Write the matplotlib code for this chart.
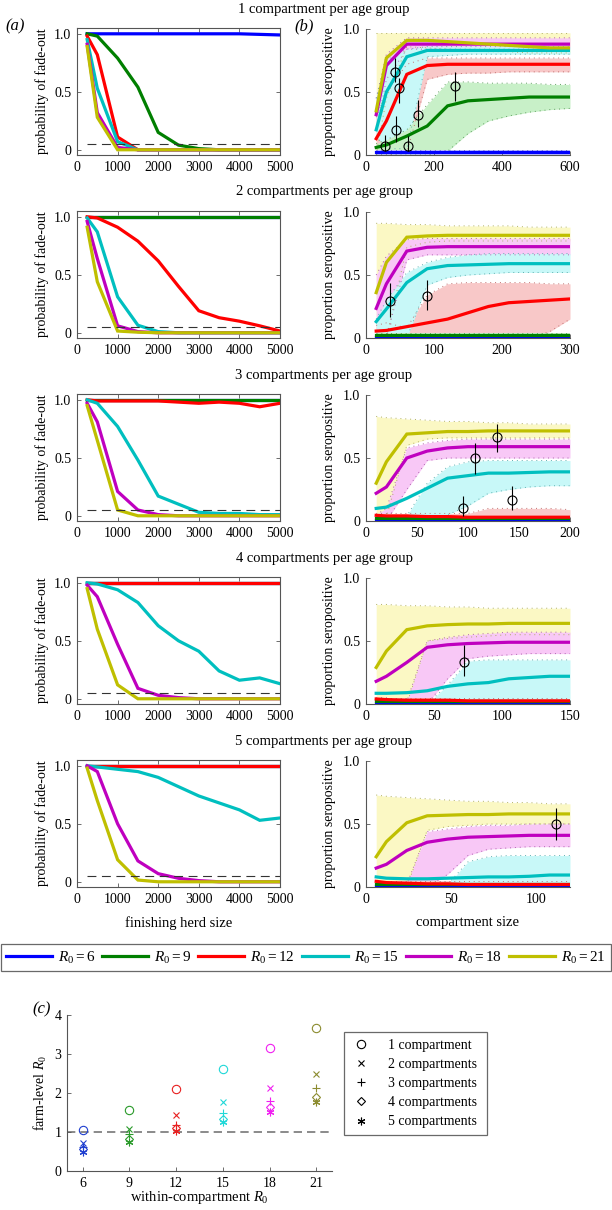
import matplotlib
matplotlib.use("Agg")
import matplotlib.pyplot as plt
from matplotlib.lines import Line2D

plt.rcParams['font.family'] = ['Liberation Serif', 'DejaVu Serif']
plt.rcParams['font.size'] = 10
plt.rcParams['mathtext.fontset'] = 'custom'
plt.rcParams['mathtext.rm'] = 'Liberation Serif'
plt.rcParams['mathtext.it'] = 'Liberation Serif:italic'

# ---------------- data ----------------
r0_values = [6, 9, 12, 15, 18, 21]
herd_sizes = [250, 500, 1000, 1500, 2000, 2500, 3000, 3500, 4000, 4500, 5000]

# panel (a): probability of fade-out, one list per R0 (6, 9, 12, 15, 18, 21)
fade_1 = [
    [1.0, 1.0, 1.0, 1.0, 1.0, 1.0, 1.0, 1.0, 1.0, 0.995, 0.99],
    [1.0, 0.98, 0.79, 0.54, 0.15, 0.04, 0.01, 0.0, 0.0, 0.0, 0.0],
    [0.98, 0.82, 0.11, 0.0, 0.0, 0.0, 0.0, 0.0, 0.0, 0.0, 0.0],
    [0.95, 0.53, 0.07, 0.0, 0.0, 0.0, 0.0, 0.0, 0.0, 0.0, 0.0],
    [0.91, 0.32, 0.02, 0.0, 0.0, 0.0, 0.0, 0.0, 0.0, 0.0, 0.0],
    [0.89, 0.28, 0.0, 0.0, 0.0, 0.0, 0.0, 0.0, 0.0, 0.0, 0.0],
]
fade_2 = [
    [1.0, 1.0, 1.0, 1.0, 1.0, 1.0, 1.0, 1.0, 1.0, 1.0, 1.0],
    [1.0, 1.0, 1.0, 1.0, 1.0, 1.0, 1.0, 1.0, 1.0, 1.0, 1.0],
    [1.0, 0.99, 0.91, 0.79, 0.62, 0.40, 0.19, 0.13, 0.10, 0.06, 0.015],
    [0.99, 0.87, 0.31, 0.065, 0.01, 0.0, 0.0, 0.0, 0.0, 0.0, 0.0],
    [0.96, 0.64, 0.06, 0.01, 0.0, 0.0, 0.0, 0.0, 0.0, 0.0, 0.0],
    [0.91, 0.44, 0.015, 0.005, 0.0, 0.0, 0.0, 0.0, 0.0, 0.0, 0.0],
]
fade_3 = [
    [1.0, 1.0, 1.0, 1.0, 1.0, 1.0, 1.0, 1.0, 1.0, 1.0, 1.0],
    [1.0, 1.0, 1.0, 1.0, 1.0, 1.0, 1.0, 1.0, 1.0, 1.0, 1.0],
    [1.0, 0.99, 0.99, 0.99, 0.99, 0.98, 0.97, 0.98, 0.97, 0.94, 0.97],
    [1.0, 0.97, 0.77, 0.48, 0.17, 0.10, 0.03, 0.02, 0.02, 0.01, 0.01],
    [0.97, 0.81, 0.21, 0.05, 0.01, 0.0, 0.0, 0.0, 0.0, 0.0, 0.0],
    [0.95, 0.65, 0.05, 0.0, 0.0, 0.0, 0.0, 0.0, 0.0, 0.0, 0.0],
]
fade_4 = [
    [1.0, 1.0, 1.0, 1.0, 1.0, 1.0, 1.0, 1.0, 1.0, 1.0, 1.0],
    [1.0, 1.0, 1.0, 1.0, 1.0, 1.0, 1.0, 1.0, 1.0, 1.0, 1.0],
    [1.0, 1.0, 1.0, 1.0, 1.0, 1.0, 1.0, 1.0, 1.0, 1.0, 1.0],
    [1.0, 0.99, 0.94, 0.83, 0.63, 0.50, 0.41, 0.24, 0.16, 0.18, 0.13],
    [0.98, 0.88, 0.47, 0.09, 0.03, 0.01, 0.0, 0.0, 0.0, 0.0, 0.0],
    [0.95, 0.60, 0.12, 0.0, 0.0, 0.0, 0.0, 0.0, 0.0, 0.0, 0.0],
]
fade_5 = [
    [1.0, 1.0, 1.0, 1.0, 1.0, 1.0, 1.0, 1.0, 1.0, 1.0, 1.0],
    [1.0, 1.0, 1.0, 1.0, 1.0, 1.0, 1.0, 1.0, 1.0, 1.0, 1.0],
    [1.0, 1.0, 1.0, 1.0, 1.0, 1.0, 1.0, 1.0, 1.0, 1.0, 1.0],
    [1.0, 0.99, 0.97, 0.95, 0.90, 0.82, 0.74, 0.68, 0.62, 0.53, 0.55],
    [1.0, 0.95, 0.50, 0.18, 0.07, 0.03, 0.01, 0.0, 0.0, 0.0, 0.0],
    [0.98, 0.70, 0.19, 0.015, 0.0, 0.0, 0.0, 0.0, 0.0, 0.0, 0.0],
]
fade_threshold = 0.05

# panel (b): compartment sizes, median proportion seropositive and bands
comp_x1 = [30, 60, 120, 180, 240, 300, 360, 420, 480, 540, 600]
comp_x2 = [15, 30, 60, 90, 120, 150, 180, 210, 240, 270, 300]
comp_x3 = [10, 20, 40, 60, 80, 100, 120, 140, 160, 180, 200]
comp_x4 = [7.5, 15, 30, 45, 60, 75, 90, 105, 120, 135, 150]
comp_x5 = [6, 12, 24, 36, 48, 60, 72, 84, 96, 108, 120]

sero_1 = [
    [0.02] * 11,
    [0.06, 0.08, 0.15, 0.23, 0.39, 0.43, 0.44, 0.45, 0.46, 0.46, 0.46],
    [0.13, 0.27, 0.64, 0.71, 0.72, 0.72, 0.72, 0.72, 0.72, 0.72, 0.72],
    [0.20, 0.50, 0.78, 0.83, 0.83, 0.83, 0.83, 0.83, 0.83, 0.83, 0.83],
    [0.32, 0.71, 0.88, 0.88, 0.88, 0.88, 0.88, 0.88, 0.88, 0.88, 0.88],
    [0.35, 0.77, 0.91, 0.91, 0.90, 0.89, 0.88, 0.87, 0.86, 0.85, 0.85],
]
sero_1_lo = [
    [0.0] * 11,
    [0.0, 0.0, 0.0, 0.0, 0.03, 0.17, 0.27, 0.31, 0.34, 0.36, 0.37],
    [0.0, 0.0, 0.02, 0.60, 0.64, 0.65, 0.65, 0.66, 0.66, 0.66, 0.66],
    [0.15, 0.05, 0.05, 0.78, 0.79, 0.80, 0.80, 0.80, 0.80, 0.80, 0.80],
    [0.20, 0.60, 0.84, 0.84, 0.84, 0.84, 0.84, 0.84, 0.84, 0.84, 0.84],
    [0.0, 0.45, 0.86, 0.85, 0.84, 0.83, 0.82, 0.82, 0.81, 0.81, 0.81],
]
sero_1_hi = [
    [0.04] * 11,
    [0.09, 0.12, 0.20, 0.40, 0.58, 0.58, 0.57, 0.57, 0.57, 0.56, 0.56],
    [0.30, 0.50, 0.72, 0.77, 0.77, 0.77, 0.77, 0.77, 0.77, 0.77, 0.77],
    [0.45, 0.75, 0.84, 0.86, 0.86, 0.86, 0.86, 0.86, 0.86, 0.86, 0.86],
    [0.45, 0.80, 0.93, 0.93, 0.93, 0.93, 0.93, 0.93, 0.93, 0.93, 0.93],
    [0.97, 0.97, 0.97, 0.97, 0.97, 0.97, 0.97, 0.97, 0.97, 0.97, 0.97],
]

sero_2 = [
    [0.01] * 11,
    [0.02] * 11,
    [0.055, 0.06, 0.09, 0.12, 0.15, 0.20, 0.25, 0.28, 0.29, 0.30, 0.31],
    [0.13, 0.23, 0.44, 0.55, 0.575, 0.58, 0.585, 0.59, 0.59, 0.59, 0.59],
    [0.235, 0.43, 0.69, 0.72, 0.725, 0.725, 0.725, 0.725, 0.725, 0.725, 0.725],
    [0.36, 0.60, 0.80, 0.81, 0.815, 0.815, 0.815, 0.815, 0.815, 0.815, 0.815],
]
sero_2_lo = [
    [0.0] * 11,
    [0.0] * 11,
    [0.0, 0.0, 0.0, 0.0, 0.0, 0.0, 0.0, 0.0, 0.0, 0.05, 0.15],
    [0.0, 0.0, 0.0, 0.42, 0.48, 0.50, 0.51, 0.52, 0.52, 0.52, 0.52],
    [0.0, 0.0, 0.62, 0.66, 0.66, 0.66, 0.66, 0.66, 0.66, 0.66, 0.66],
    [0.0, 0.0, 0.72, 0.76, 0.77, 0.77, 0.77, 0.77, 0.77, 0.77, 0.77],
]
sero_2_hi = [
    [0.02] * 11,
    [0.04] * 11,
    [0.10, 0.12, 0.08, 0.34, 0.43, 0.44, 0.44, 0.44, 0.44, 0.43, 0.43],
    [0.15, 0.30, 0.52, 0.60, 0.64, 0.66, 0.67, 0.67, 0.67, 0.67, 0.67],
    [0.50, 0.65, 0.78, 0.79, 0.79, 0.79, 0.79, 0.79, 0.79, 0.79, 0.79],
    [0.91, 0.91, 0.90, 0.90, 0.89, 0.89, 0.89, 0.89, 0.88, 0.88, 0.88],
]

sero_3 = [
    [0.01] * 11,
    [0.02] * 11,
    [0.045, 0.04, 0.04, 0.035, 0.035, 0.03, 0.03, 0.03, 0.03, 0.03, 0.03],
    [0.10, 0.11, 0.18, 0.26, 0.34, 0.36, 0.38, 0.38, 0.385, 0.39, 0.39],
    [0.22, 0.27, 0.50, 0.555, 0.58, 0.59, 0.59, 0.59, 0.59, 0.59, 0.59],
    [0.30, 0.47, 0.69, 0.70, 0.71, 0.71, 0.715, 0.715, 0.715, 0.715, 0.715],
]
sero_3_lo = [
    [0.0] * 11,
    [0.0] * 11,
    [0.0] * 11,
    [0.0, 0.0, 0.0, 0.0, 0.05, 0.12, 0.22, 0.25, 0.27, 0.28, 0.28],
    [0.0, 0.0, 0.25, 0.48, 0.50, 0.50, 0.50, 0.50, 0.50, 0.50, 0.50],
    [0.0, 0.03, 0.60, 0.65, 0.66, 0.66, 0.66, 0.66, 0.66, 0.66, 0.66],
]
sero_3_hi = [
    [0.02] * 11,
    [0.03] * 11,
    [0.06, 0.06, 0.06, 0.06, 0.06, 0.06, 0.10, 0.10, 0.10, 0.10, 0.09],
    [0.04, 0.04, 0.04, 0.30, 0.43, 0.47, 0.48, 0.48, 0.48, 0.48, 0.48],
    [0.05, 0.10, 0.58, 0.62, 0.64, 0.65, 0.65, 0.65, 0.65, 0.65, 0.65],
    [0.83, 0.82, 0.81, 0.80, 0.79, 0.79, 0.78, 0.78, 0.77, 0.77, 0.77],
]

sero_4 = [
    [0.01] * 11,
    [0.02] * 11,
    [0.04, 0.035, 0.03, 0.03, 0.03, 0.025, 0.025, 0.025, 0.025, 0.025, 0.025],
    [0.085, 0.085, 0.09, 0.105, 0.14, 0.16, 0.17, 0.20, 0.21, 0.22, 0.22],
    [0.18, 0.22, 0.33, 0.45, 0.47, 0.48, 0.485, 0.49, 0.49, 0.49, 0.49],
    [0.29, 0.42, 0.59, 0.62, 0.63, 0.635, 0.635, 0.64, 0.64, 0.64, 0.64],
]
sero_4_lo = [
    [0.0] * 11,
    [0.0] * 11,
    [0.0] * 11,
    [0.0] * 11,
    [0.0, 0.0, 0.0, 0.0, 0.20, 0.36, 0.38, 0.39, 0.40, 0.40, 0.40],
    [0.0, 0.0, 0.0, 0.50, 0.52, 0.53, 0.54, 0.55, 0.55, 0.55, 0.55],
]
sero_4_hi = [
    [0.02] * 11,
    [0.03] * 11,
    [0.05] * 11,
    [0.04, 0.04, 0.04, 0.0, 0.15, 0.34, 0.35, 0.35, 0.35, 0.35, 0.35],
    [0.05, 0.05, 0.02, 0.50, 0.53, 0.55, 0.56, 0.57, 0.57, 0.57, 0.57],
    [0.79, 0.79, 0.78, 0.78, 0.77, 0.77, 0.76, 0.76, 0.76, 0.76, 0.76],
]

sero_5 = [
    [0.01] * 11,
    [0.02] * 11,
    [0.045, 0.035, 0.03, 0.025, 0.025, 0.02, 0.02, 0.02, 0.02, 0.02, 0.02],
    [0.08, 0.07, 0.065, 0.065, 0.07, 0.075, 0.08, 0.08, 0.085, 0.095, 0.095],
    [0.15, 0.18, 0.29, 0.355, 0.38, 0.395, 0.40, 0.405, 0.41, 0.41, 0.41],
    [0.24, 0.36, 0.51, 0.565, 0.57, 0.575, 0.575, 0.58, 0.58, 0.58, 0.58],
]
sero_5_lo = [
    [0.0] * 11,
    [0.0] * 11,
    [0.0] * 11,
    [0.0] * 11,
    [0.0, 0.0, 0.0, 0.0, 0.10, 0.25, 0.30, 0.31, 0.32, 0.32, 0.32],
    [0.0, 0.0, 0.0, 0.45, 0.48, 0.49, 0.50, 0.50, 0.50, 0.50, 0.50],
]
sero_5_hi = [
    [0.02] * 11,
    [0.03] * 11,
    [0.05] * 11,
    [0.04, 0.04, 0.0, 0.0, 0.02, 0.20, 0.24, 0.25, 0.25, 0.25, 0.25],
    [0.02, 0.02, 0.02, 0.44, 0.46, 0.48, 0.49, 0.49, 0.50, 0.50, 0.50],
    [0.73, 0.72, 0.71, 0.70, 0.69, 0.68, 0.68, 0.67, 0.67, 0.66, 0.66],
]

# observed data (x, y, lower, upper)
obs_1_x = [57, 85, 89, 97, 124, 153, 262]
obs_1_y = [0.07, 0.66, 0.195, 0.53, 0.07, 0.32, 0.55]
obs_1_lo = [0.03, 0.58, 0.10, 0.41, 0.03, 0.22, 0.43]
obs_1_hi = [0.16, 0.77, 0.31, 0.61, 0.15, 0.44, 0.66]
obs_2_x = [35, 89]
obs_2_y = [0.29, 0.335]
obs_2_lo = [0.17, 0.22]
obs_2_hi = [0.44, 0.46]
obs_3_x = [95, 107, 128, 143]
obs_3_y = [0.105, 0.50, 0.67, 0.17]
obs_3_lo = [0.04, 0.37, 0.545, 0.09]
obs_3_hi = [0.20, 0.62, 0.77, 0.28]
obs_4_x = [72]
obs_4_y = [0.33]
obs_4_lo = [0.22]
obs_4_hi = [0.47]
obs_5_x = [112]
obs_5_y = [0.50]
obs_5_lo = [0.375]
obs_5_hi = [0.625]

# panel (c): farm-level R0
within_r0 = [6, 9, 12, 15, 18, 21]
farm_r0_1 = [1.05, 1.57, 2.09, 2.61, 3.15, 3.66]
farm_r0_2 = [0.72, 1.07, 1.43, 1.77, 2.14, 2.49]
farm_r0_3 = [0.62, 0.95, 1.17, 1.49, 1.80, 2.12]
farm_r0_4 = [0.56, 0.83, 1.09, 1.34, 1.63, 1.90]
farm_r0_5 = [0.50, 0.75, 1.02, 1.26, 1.52, 1.78]

# ---------------- style ----------------
line_colors = ['#0000ff', '#007f00', '#ff0000', '#00bfbf', '#bf00bf', '#bfbf00']
band_colors = ['#c8c8ff', '#c8f0c8', '#f8c8c8', '#c8f8f8', '#f8c8f6', '#fbf8c4']
edge_colors = ['#7070c0', '#60a060', '#c07070', '#60b0b0', '#b060b0', '#b0b060']
c_colors = ['#1f3fd0', '#2a9a2a', '#e82020', '#20d8d8', '#f020f0', '#8c8c30']
band_order = [5, 4, 2, 3, 1, 0]

W, H = 612.0, 1210.0
tops = [28, 211, 394, 577, 760]
titles = ['1 compartment per age group', '2 compartments per age group',
          '3 compartments per age group', '4 compartments per age group',
          '5 compartments per age group']
fades = [fade_1, fade_2, fade_3, fade_4, fade_5]
comp_xs = [comp_x1, comp_x2, comp_x3, comp_x4, comp_x5]
seros = [sero_1, sero_2, sero_3, sero_4, sero_5]
sero_los = [sero_1_lo, sero_2_lo, sero_3_lo, sero_4_lo, sero_5_lo]
sero_his = [sero_1_hi, sero_2_hi, sero_3_hi, sero_4_hi, sero_5_hi]
obs = [(obs_1_x, obs_1_y, obs_1_lo, obs_1_hi), (obs_2_x, obs_2_y, obs_2_lo, obs_2_hi),
       (obs_3_x, obs_3_y, obs_3_lo, obs_3_hi), (obs_4_x, obs_4_y, obs_4_lo, obs_4_hi),
       (obs_5_x, obs_5_y, obs_5_lo, obs_5_hi)]
xlims_b = [600, 300, 200, 150, 120]
xticks_b = [[0, 200, 400, 600], [0, 100, 200, 300], [0, 50, 100, 150, 200],
            [0, 50, 100, 150], [0, 50, 100]]

fig = plt.figure(figsize=(W / 100, H / 100), dpi=100)
spine_col = '#555555'

for i in range(5):
    top = tops[i]
    # ---- left panel (a)
    axl = fig.add_axes([77 / W, 1 - (top + 127) / H, 203 / W, 127 / H])
    for k in range(6):
        axl.plot(herd_sizes, fades[i][k], color=line_colors[k], lw=2.3,
                 solid_joinstyle='miter')
    axl.plot([herd_sizes[0], herd_sizes[-1]], [fade_threshold, fade_threshold],
             color='#333333', lw=0.8, linestyle=(0, (8, 5)))
    axl.set_xlim(0, 5000)
    axl.set_ylim(-0.045, 1.05)
    axl.set_xticks([0, 1000, 2000, 3000, 4000, 5000])
    axl.set_yticks([0, 0.5, 1.0])
    axl.set_yticklabels(['0', '0.5', '1.0'])
    axl.tick_params(direction='in', length=3, width=0.6, top=True, right=True,
                    labelsize=10, pad=4, color=spine_col)
    for s in axl.spines.values():
        s.set_color(spine_col)
        s.set_linewidth(0.8)
    axl.set_ylabel('probability of fade-out', fontsize=10)
    axl.yaxis.set_label_coords(-0.138, 0.5)
    if i == 4:
        axl.set_xlabel('finishing herd size', fontsize=10.5)
        axl.xaxis.set_label_coords(0.5, -0.23)

    # ---- right panel (b)
    axr = fig.add_axes([366 / W, 1 - (top + 127) / H, 204 / W, 126 / H])
    xs = comp_xs[i]
    for k in band_order:
        axr.fill_between(xs, sero_los[i][k], sero_his[i][k], color=band_colors[k],
                         lw=0, zorder=1)
    for k in band_order:
        for edge in (sero_los[i][k], sero_his[i][k]):
            axr.plot(xs, edge, color=edge_colors[k], lw=0.7,
                     linestyle=(0, (1, 4)), zorder=2)
    for k in range(6):
        axr.plot(xs, seros[i][k], color=line_colors[k], lw=2.3, zorder=3,
                 solid_joinstyle='miter')
    ox, oy, olo, ohi = obs[i]
    yerr = [[y - l for y, l in zip(oy, olo)], [h - y for y, h in zip(oy, ohi)]]
    axr.errorbar(ox, oy, yerr=yerr, fmt='o', mfc='none', mec='black', ms=6.5,
                 mew=0.8, ecolor='black', elinewidth=0.8, capsize=0, zorder=5)
    axr.set_xlim(0, xlims_b[i])
    axr.set_ylim(0, 1.0)
    axr.set_xticks(xticks_b[i])
    axr.set_yticks([0, 0.5, 1.0])
    axr.set_yticklabels(['0', '0.5', '1.0'])
    axr.spines['top'].set_visible(False)
    axr.spines['right'].set_visible(False)
    for s in ('left', 'bottom'):
        axr.spines[s].set_color(spine_col)
        axr.spines[s].set_linewidth(0.8)
    axr.tick_params(direction='in', length=3, width=0.6, labelsize=10, pad=4,
                    color=spine_col)
    axr.set_ylabel('proportion seropositive', fontsize=10)
    axr.yaxis.set_label_coords(-0.147, 0.5)
    if i == 4:
        axr.set_xlabel('compartment size', fontsize=10.5)
        axr.xaxis.set_label_coords(0.5, -0.23)

    fig.text(324 / W, 1 - (top - 19) / H, titles[i], ha='center', va='center',
             fontsize=10.5)

fig.text(15 / W, 1 - 26 / H, '(a)', ha='center', va='center', fontsize=12,
         style='italic')
fig.text(304 / W, 1 - 26 / H, '(b)', ha='center', va='center', fontsize=12,
         style='italic')

# legend for R0
handles = [Line2D([0], [0], color=line_colors[k], lw=2.3) for k in range(6)]
labels = [r'$R_0 = %d$' % r for r in r0_values]
leg = fig.legend(handles, labels, ncol=6, loc='center',
                 bbox_to_anchor=(1 / W, 1 - 973 / H, 610 / W, 31 / H), mode='expand',
                 frameon=True, fancybox=False, edgecolor='#444444', fontsize=11,
                 handlelength=3.0, handletextpad=0.4, columnspacing=0.8,
                 borderpad=0.35, borderaxespad=0)
leg.get_frame().set_linewidth(0.9)

# ---- panel (c)
axc = fig.add_axes([67 / W, 1 - 1171 / H, 265 / W, 156 / H])
markers = ['o', 'x', '+', 'D', (6, 2, 0)]
msizes = [6, 4.5, 6, 4.5, 5.5]
series_c = [farm_r0_1, farm_r0_2, farm_r0_3, farm_r0_4, farm_r0_5]
for m in range(5):
    for j in range(6):
        axc.plot(within_r0[j], series_c[m][j], linestyle='none', marker=markers[m],
                 ms=msizes[m], mfc='none', mec=c_colors[j], mew=0.8, zorder=3)
axc.axhline(1.0, color='#777777', lw=1.2, linestyle=(0, (5, 3)), zorder=1)
axc.set_xlim(5, 22)
axc.set_ylim(0, 4)
axc.set_xticks(within_r0)
axc.set_yticks([0, 1, 2, 3, 4])
axc.spines['top'].set_visible(False)
axc.spines['right'].set_visible(False)
for s in ('left', 'bottom'):
    axc.spines[s].set_color(spine_col)
    axc.spines[s].set_linewidth(0.8)
axc.tick_params(direction='in', length=3, width=0.6, labelsize=10, pad=4,
                color=spine_col)
axc.set_ylabel(r'farm-level $R_0$', fontsize=10)
axc.yaxis.set_label_coords(-0.068, 0.5)
axc.set_xlabel(r'within-compartment $R_0$', fontsize=10.5)
axc.xaxis.set_label_coords(0.5, -0.115)
fig.text(42 / W, 1 - 1009 / H, '(c)', ha='center', va='center', fontsize=12,
         style='italic')

c_labels = ['1 compartment', '2 compartments', '3 compartments', '4 compartments',
            '5 compartments']
c_handles = [Line2D([0], [0], linestyle='none', marker=markers[m], ms=msizes[m],
                    mfc='none', mec='black', mew=0.8) for m in range(5)]
legc = fig.legend(c_handles, c_labels, loc='center',
                  bbox_to_anchor=(344 / W, 1 - 1137 / H, 143 / W, 107 / H),
                  mode='expand', frameon=True, fancybox=False, edgecolor='#444444',
                  fontsize=10, handlelength=1.5, handletextpad=1.2,
                  labelspacing=0.45, borderpad=0.5, borderaxespad=0)
legc.get_frame().set_linewidth(0.9)

fig.savefig('out.png', dpi=100)
